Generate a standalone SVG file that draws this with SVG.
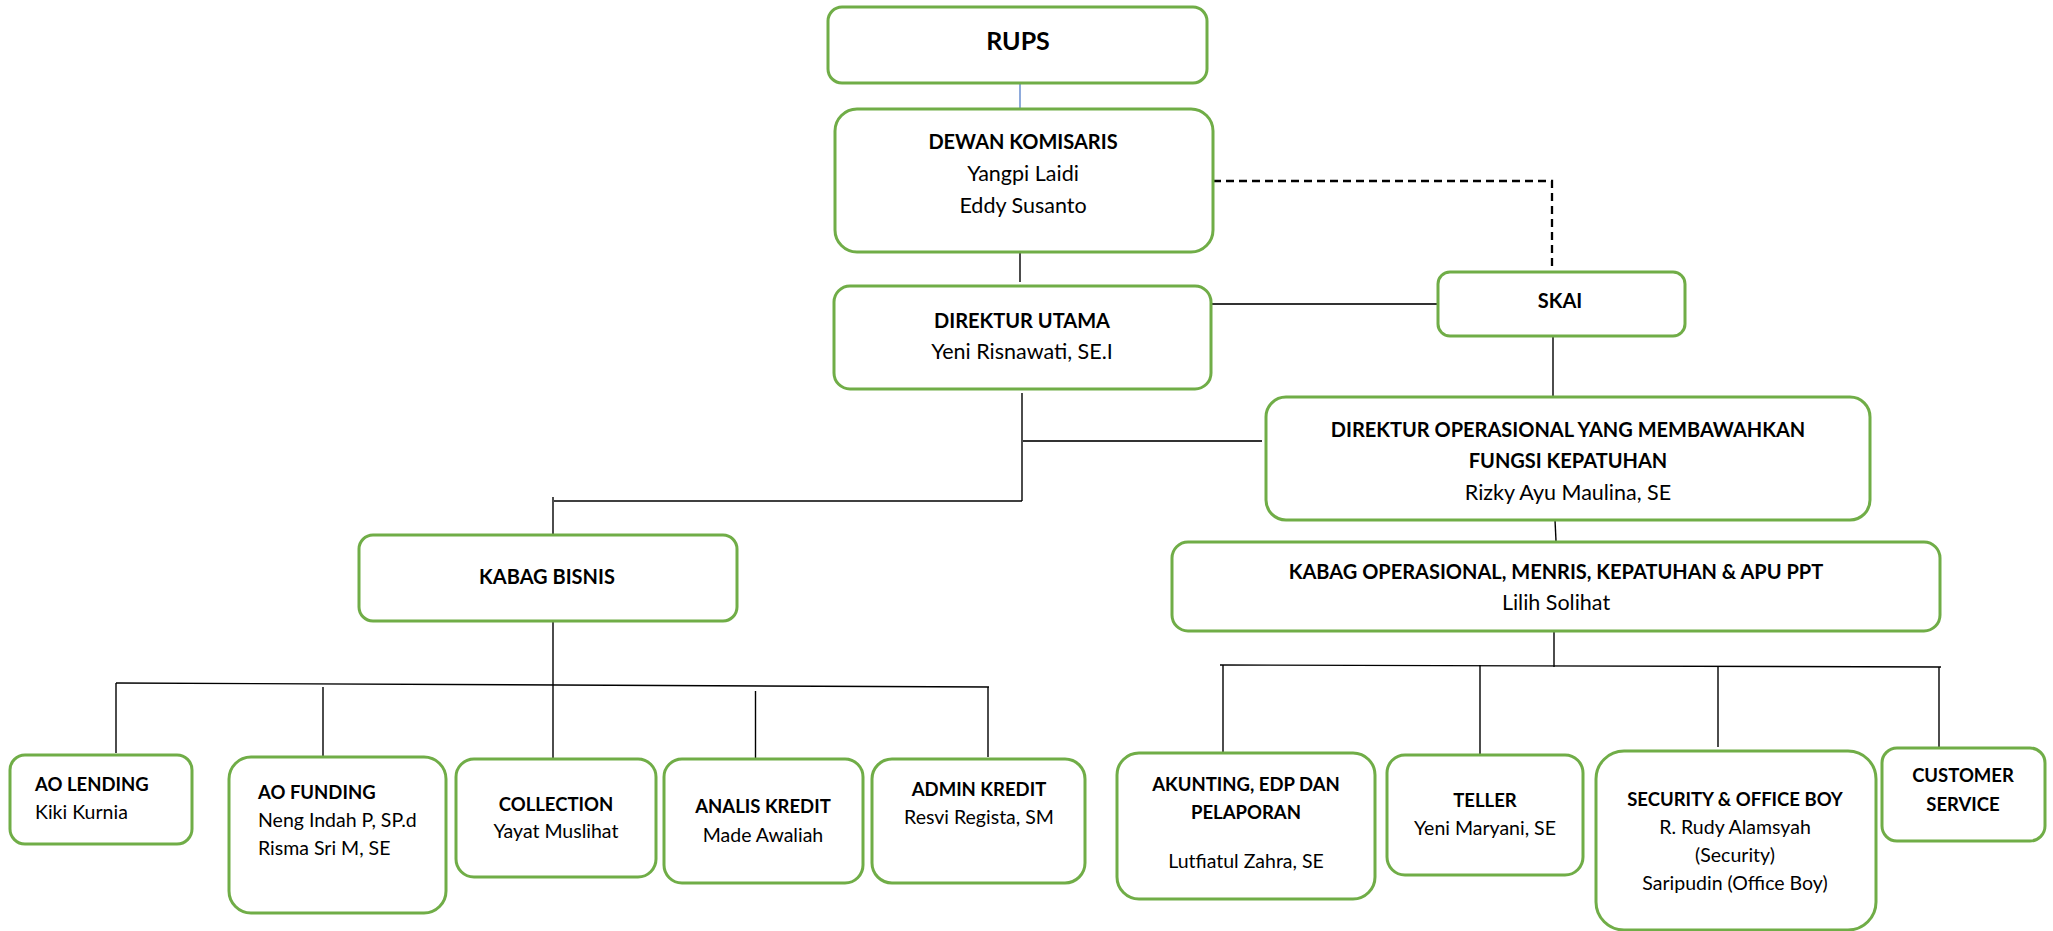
<svg xmlns="http://www.w3.org/2000/svg" width="2053" height="931" viewBox="0 0 2053 931">
<style>
.box{fill:#fff;stroke:#70AD47;stroke-width:3}
.t{font-family:Lato,"Open Sans","Liberation Sans",sans-serif;fill:#000}
.h{font-weight:bold;font-size:20px}
.n{font-size:21.5px}
.hs{font-weight:bold;font-size:18.5px}
.ns{font-size:19.5px}
.c{text-anchor:middle}
.ln{stroke:#000;stroke-width:1.4;fill:none}
.lg{stroke:#333;stroke-width:2;fill:none}
</style>
<rect width="2053" height="931" fill="#fff"/>
<g id="connectors">
<line x1="1020" y1="83" x2="1020" y2="109" stroke="#4472C4" stroke-width="1.2"/>
<line class="ln" x1="1020" y1="252" x2="1020" y2="282"/>
<path d="M1213 181 H1552 V267" fill="none" stroke="#000" stroke-width="2.3" stroke-dasharray="8 5"/>
<line class="lg" x1="1211" y1="304" x2="1439" y2="304"/>
<line class="ln" x1="1553" y1="336" x2="1553" y2="401"/>
<line class="ln" x1="1022" y1="393" x2="1022" y2="501"/>
<line class="lg" x1="1023" y1="441" x2="1262" y2="441"/>
<line class="ln" x1="554" y1="501" x2="1022" y2="501"/>
<line class="ln" x1="553" y1="497" x2="553" y2="535"/>
<line class="ln" x1="553" y1="621" x2="553" y2="760"/>
<line class="ln" x1="116" y1="683" x2="989" y2="687"/>
<line class="ln" x1="116" y1="683" x2="116" y2="753"/>
<line class="ln" x1="323" y1="687" x2="323" y2="757"/>
<line class="ln" x1="755.5" y1="691" x2="755.5" y2="761"/>
<line class="ln" x1="988" y1="687" x2="988" y2="757"/>
<line class="ln" x1="1555" y1="520" x2="1556" y2="541"/>
<line class="ln" x1="1554" y1="627" x2="1554" y2="667"/>
<line class="ln" x1="1220" y1="665" x2="1941" y2="667"/>
<line class="ln" x1="1223" y1="665" x2="1223" y2="754"/>
<line class="ln" x1="1480" y1="665" x2="1480" y2="758"/>
<line class="ln" x1="1718" y1="667" x2="1718" y2="747"/>
<line class="ln" x1="1939" y1="667" x2="1939" y2="748"/>
</g>
<g id="rups">
<rect class="box" x="828" y="7" width="379" height="76" rx="14"/>
<text class="t c" x="1018" y="50" font-size="25" font-weight="bold">RUPS</text>
</g>
<g id="dewan-komisaris">
<rect class="box" x="835" y="109" width="378" height="143" rx="22"/>
<text class="t h c" x="1023" y="149">DEWAN KOMISARIS</text>
<text class="t n c" x="1023" y="181">Yangpi Laidi</text>
<text class="t n c" x="1023" y="213">Eddy Susanto</text>
</g>
<g id="direktur-utama">
<rect class="box" x="834" y="286" width="377" height="103" rx="16"/>
<text class="t h c" x="1022" y="328">DIREKTUR UTAMA</text>
<text class="t n c" x="1022" y="359">Yeni Risnawati, SE.I</text>
</g>
<g id="skai">
<rect class="box" x="1438" y="272" width="247" height="64" rx="12"/>
<text class="t h c" x="1560" y="308">SKAI</text>
</g>
<g id="direktur-operasional">
<rect class="box" x="1266" y="397" width="604" height="123" rx="20"/>
<text class="t h c" x="1568" y="437">DIREKTUR OPERASIONAL YANG MEMBAWAHKAN</text>
<text class="t h c" x="1568" y="468">FUNGSI KEPATUHAN</text>
<text class="t n c" x="1568" y="500">Rizky Ayu Maulina, SE</text>
</g>
<g id="kabag-operasional">
<rect class="box" x="1172" y="542" width="768" height="89" rx="16"/>
<text class="t h c" x="1556" y="579">KABAG OPERASIONAL, MENRIS, KEPATUHAN &amp; APU PPT</text>
<text class="t n c" x="1556" y="610">Lilih Solihat</text>
</g>
<g id="kabag-bisnis">
<rect class="box" x="359" y="535" width="378" height="86" rx="14"/>
<text class="t h c" x="547" y="584">KABAG BISNIS</text>
</g>
<g id="ao-lending">
<rect class="box" x="10" y="755" width="182" height="89" rx="15"/>
<text class="t hs" x="35" y="791">AO LENDING</text>
<text class="t ns" x="35" y="819">Kiki Kurnia</text>
</g>
<g id="ao-funding">
<rect class="box" x="229" y="757" width="217" height="156" rx="22"/>
<text class="t hs" x="258" y="799">AO FUNDING</text>
<text class="t ns" x="258" y="827">Neng Indah P, SP.d</text>
<text class="t ns" x="258" y="855">Risma Sri M, SE</text>
</g>
<g id="collection">
<rect class="box" x="456" y="759" width="200" height="118" rx="18"/>
<text class="t hs c" x="556" y="811">COLLECTION</text>
<text class="t ns c" x="556" y="838">Yayat Muslihat</text>
</g>
<g id="analis-kredit">
<rect class="box" x="664" y="759" width="199" height="124" rx="18"/>
<text class="t hs c" x="763" y="813">ANALIS KREDIT</text>
<text class="t ns c" x="763" y="842">Made Awaliah</text>
</g>
<g id="admin-kredit">
<rect class="box" x="872" y="759" width="213" height="124" rx="20"/>
<text class="t hs c" x="979" y="796">ADMIN KREDIT</text>
<text class="t ns c" x="979" y="824">Resvi Regista, SM</text>
</g>
<g id="akunting">
<rect class="box" x="1117" y="753" width="258" height="146" rx="22"/>
<text class="t hs c" x="1246" y="791">AKUNTING, EDP DAN</text>
<text class="t hs c" x="1246" y="819">PELAPORAN</text>
<text class="t ns c" x="1246" y="868">Lutfiatul Zahra, SE</text>
</g>
<g id="teller">
<rect class="box" x="1387" y="755" width="196" height="120" rx="18"/>
<text class="t hs c" x="1485" y="807">TELLER</text>
<text class="t ns c" x="1485" y="835">Yeni Maryani, SE</text>
</g>
<g id="security">
<rect class="box" x="1596" y="751" width="280" height="179" rx="28"/>
<text class="t hs c" x="1735" y="806">SECURITY &amp; OFFICE BOY</text>
<text class="t ns c" x="1735" y="834">R. Rudy Alamsyah</text>
<text class="t ns c" x="1735" y="862">(Security)</text>
<text class="t ns c" x="1735" y="890">Saripudin (Office Boy)</text>
</g>
<g id="customer-service">
<rect class="box" x="1882" y="748" width="163" height="93" rx="15"/>
<text class="t hs c" x="1963" y="782">CUSTOMER</text>
<text class="t hs c" x="1963" y="811">SERVICE</text>
</g>
</svg>
